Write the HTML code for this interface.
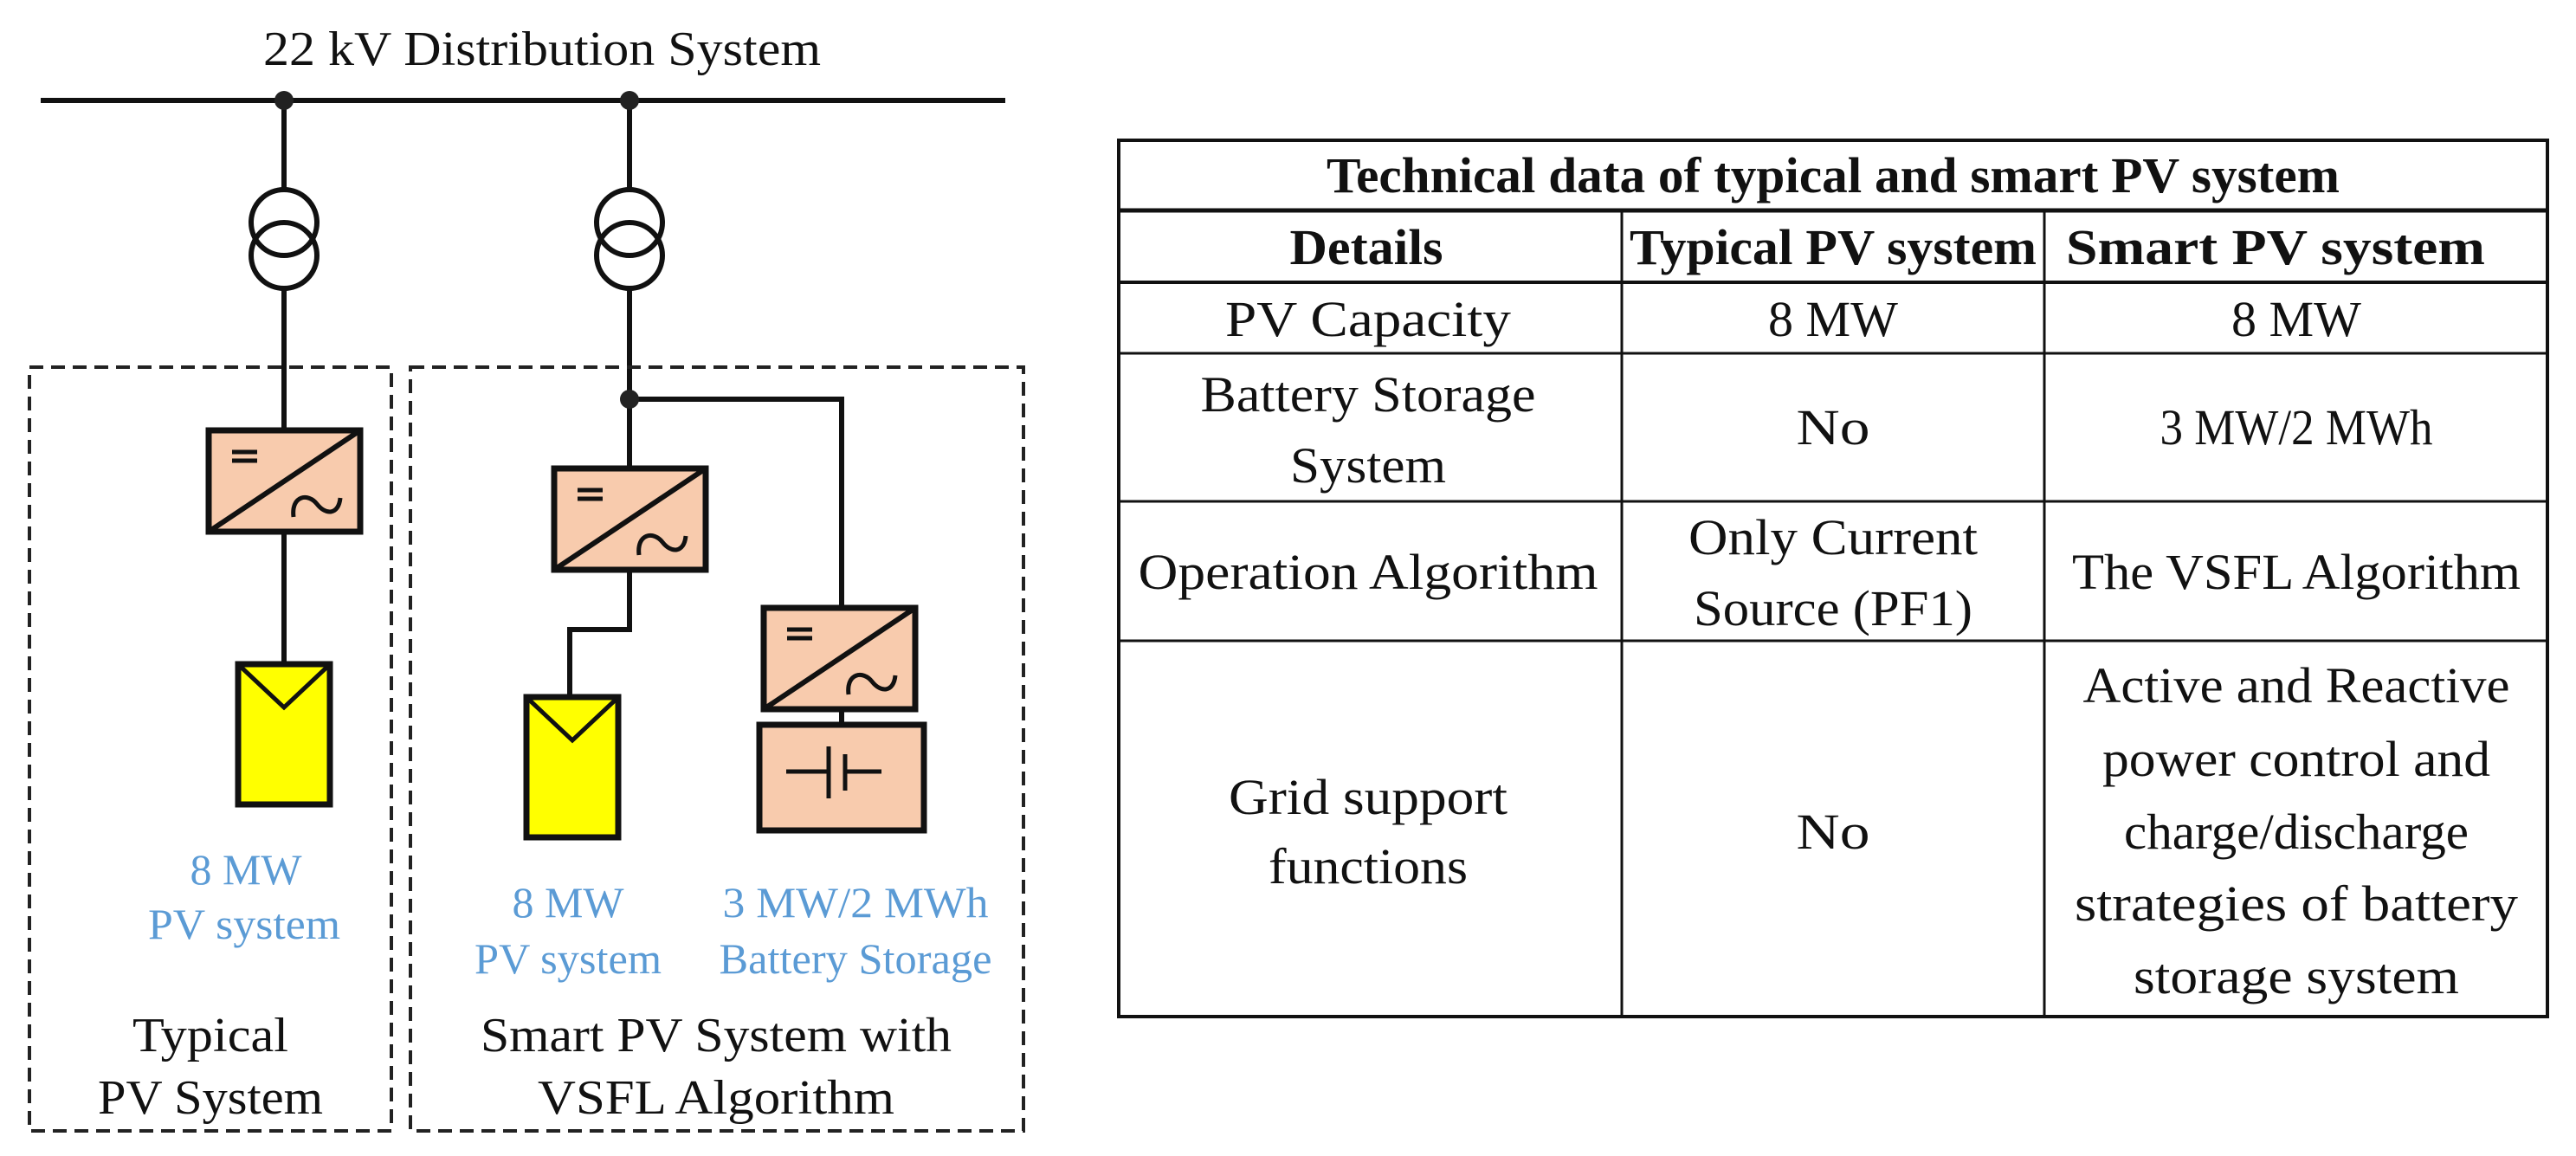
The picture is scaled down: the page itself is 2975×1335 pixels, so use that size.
<!DOCTYPE html>
<html><head><meta charset="utf-8"><style>html,body{margin:0;padding:0;background:#fff}svg{display:block}svg text{font-family:"Liberation Serif","Times New Roman",serif}</style></head>
<body>
<svg width="2975" height="1335" viewBox="0 0 2975 1335" xmlns="http://www.w3.org/2000/svg">
<defs>
<g id="inv">
<rect x="0" y="0" width="175" height="117" fill="#f8cbad" stroke="#111" stroke-width="7"/>
<line x1="0" y1="117" x2="175" y2="0" stroke="#111" stroke-width="6"/>
<line x1="27" y1="25" x2="56" y2="25" stroke="#111" stroke-width="5"/>
<line x1="27" y1="35" x2="56" y2="35" stroke="#111" stroke-width="5"/>
<path d="M98 100 C95 75 115 72 125 85 C135 98 150 98 152 78" fill="none" stroke="#111" stroke-width="5"/>
</g>
<g id="pv">
<rect x="0" y="0" width="106" height="162" fill="#ffff00" stroke="#111" stroke-width="7"/>
<polyline points="3,3 53,50 103,3" fill="none" stroke="#111" stroke-width="5"/>
</g>
</defs>
<g stroke="#111" stroke-width="6" fill="none">
<line x1="47" y1="116" x2="1161" y2="116"/>
<line x1="328" y1="116" x2="328" y2="218"/>
<line x1="328" y1="330" x2="328" y2="766"/>
<circle cx="328" cy="257" r="38"/><circle cx="328" cy="295" r="38"/>
<line x1="727" y1="116" x2="727" y2="218"/>
<line x1="727" y1="330" x2="727" y2="541"/>
<circle cx="727" cy="257" r="38"/><circle cx="727" cy="295" r="38"/>
<polyline points="727,461 972,461 972,702"/>
<polyline points="727,658 727,727 658,727 658,805"/>
<line x1="972" y1="820" x2="972" y2="835"/>
</g>
<circle cx="328" cy="116" r="11" fill="#222"/>
<circle cx="727" cy="116" r="11" fill="#222"/>
<circle cx="727" cy="461" r="11" fill="#222"/>
<g stroke="#222" stroke-width="4" stroke-dasharray="16,9" fill="none">
<rect x="34" y="424" width="418" height="882"/>
<rect x="474" y="424" width="708" height="882"/>
</g>
<use href="#inv" x="241" y="497"/>
<use href="#inv" x="640" y="541"/>
<use href="#inv" x="882" y="702"/>
<use href="#pv" x="275" y="767"/>
<use href="#pv" x="608" y="805"/>
<rect x="877" y="837" width="190" height="122" fill="#f8cbad" stroke="#111" stroke-width="7"/>
<g stroke="#111" stroke-width="5"><line x1="908" y1="891" x2="957" y2="891"/><line x1="957" y1="862" x2="957" y2="922"/><line x1="976" y1="871" x2="976" y2="913"/><line x1="976" y1="891" x2="1018" y2="891"/></g>
<g font-size="56" fill="#111" text-anchor="middle">
<text x="626" y="75" textLength="644" lengthAdjust="spacingAndGlyphs">22 kV Distribution System</text>
<text x="243" y="1214" textLength="180" lengthAdjust="spacingAndGlyphs">Typical</text>
<text x="243" y="1286" textLength="260" lengthAdjust="spacingAndGlyphs">PV System</text>
<text x="827" y="1214" textLength="544" lengthAdjust="spacingAndGlyphs">Smart PV System with</text>
<text x="827" y="1286" textLength="412" lengthAdjust="spacingAndGlyphs">VSFL Algorithm</text>
</g>
<g font-size="50" fill="#5b9bd5" text-anchor="middle">
<text x="284" y="1021" textLength="129" lengthAdjust="spacingAndGlyphs">8 MW</text>
<text x="282" y="1084" textLength="222" lengthAdjust="spacingAndGlyphs">PV system</text>
<text x="656" y="1059" textLength="129" lengthAdjust="spacingAndGlyphs">8 MW</text>
<text x="656" y="1124" textLength="216" lengthAdjust="spacingAndGlyphs">PV system</text>
<text x="988" y="1059" textLength="307" lengthAdjust="spacingAndGlyphs">3 MW/2 MWh</text>
<text x="988" y="1124" textLength="315" lengthAdjust="spacingAndGlyphs">Battery Storage</text>
</g>
<g stroke="#111" fill="none">
<rect x="1292" y="162" width="1650" height="1012" stroke-width="4"/>
<line x1="1292" y1="243" x2="2942" y2="243" stroke-width="5"/>
<line x1="1292" y1="326" x2="2942" y2="326" stroke-width="4"/>
<line x1="1292" y1="408" x2="2942" y2="408" stroke-width="3"/>
<line x1="1292" y1="579" x2="2942" y2="579" stroke-width="3"/>
<line x1="1292" y1="740" x2="2942" y2="740" stroke-width="3"/>
<line x1="1873" y1="243" x2="1873" y2="1174" stroke-width="3"/>
<line x1="2361" y1="243" x2="2361" y2="1174" stroke-width="3"/>
</g>
<g font-size="58" fill="#111" text-anchor="middle">
<g font-weight="bold">
<text x="2117" y="222" textLength="1170" lengthAdjust="spacingAndGlyphs">Technical data of typical and smart PV system</text>
<text x="1578" y="305" textLength="177" lengthAdjust="spacingAndGlyphs">Details</text>
<text x="2117" y="305" textLength="470" lengthAdjust="spacingAndGlyphs">Typical PV system</text>
<text x="2628" y="305" textLength="484" lengthAdjust="spacingAndGlyphs">Smart PV system</text>
</g>
<text x="1580" y="388" textLength="330" lengthAdjust="spacingAndGlyphs">PV Capacity</text>
<text x="2117" y="388" textLength="150" lengthAdjust="spacingAndGlyphs">8 MW</text>
<text x="2652" y="388" textLength="150" lengthAdjust="spacingAndGlyphs">8 MW</text>
<text x="1580" y="475" textLength="387" lengthAdjust="spacingAndGlyphs">Battery Storage</text>
<text x="1580" y="557" textLength="180" lengthAdjust="spacingAndGlyphs">System</text>
<text x="2117" y="513" textLength="85" lengthAdjust="spacingAndGlyphs">No</text>
<text x="2652" y="513" textLength="315" lengthAdjust="spacingAndGlyphs">3 MW/2 MWh</text>
<text x="1580" y="680" textLength="531" lengthAdjust="spacingAndGlyphs">Operation Algorithm</text>
<text x="2117" y="640" textLength="334" lengthAdjust="spacingAndGlyphs">Only Current</text>
<text x="2117" y="722" textLength="322" lengthAdjust="spacingAndGlyphs">Source (PF1)</text>
<text x="2652" y="680" textLength="518" lengthAdjust="spacingAndGlyphs">The VSFL Algorithm</text>
<text x="1580" y="940" textLength="322" lengthAdjust="spacingAndGlyphs">Grid support</text>
<text x="1580" y="1020" textLength="230" lengthAdjust="spacingAndGlyphs">functions</text>
<text x="2117" y="980" textLength="85" lengthAdjust="spacingAndGlyphs">No</text>
<text x="2652" y="811" textLength="493" lengthAdjust="spacingAndGlyphs">Active and Reactive</text>
<text x="2652" y="896" textLength="448" lengthAdjust="spacingAndGlyphs">power control and</text>
<text x="2652" y="980" textLength="398" lengthAdjust="spacingAndGlyphs">charge/discharge</text>
<text x="2652" y="1063" textLength="512" lengthAdjust="spacingAndGlyphs">strategies  of battery</text>
<text x="2652" y="1147" textLength="376" lengthAdjust="spacingAndGlyphs">storage system</text>
</g>
</svg>
</body></html>
